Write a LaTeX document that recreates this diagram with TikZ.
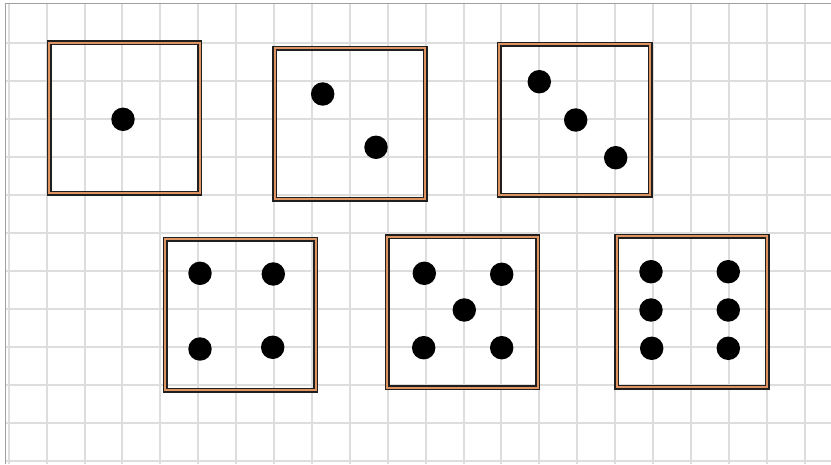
\documentclass[tikz,border=0pt]{standalone}
\definecolor{dieorange}{RGB}{222,148,98}
\definecolor{gridgray}{RGB}{221,221,221}
\definecolor{framegray}{RGB}{160,160,160}
\begin{document}
\begin{tikzpicture}[x=0.75pt,y=-0.75pt,
  gridline/.style={draw=gridgray, line width=1.5pt},
  frameline/.style={draw=framegray, line width=1.1pt},
  die/.style={draw=black!88, line width=1.1pt, double=dieorange, double distance=1.5pt,
    rectangle, inner sep=0pt, minimum width=113pt, minimum height=113pt},
  pip/.style={circle, fill=black, inner sep=0pt, minimum size=17.6pt}]
\fill[white] (0,0) rectangle (831,464);
\useasboundingbox (0,0) rectangle (831,464);
% grid
\foreach \i in {0,...,21} \draw[gridline] ({8.7+37.9*\i},3.3) -- ({8.7+37.9*\i},464);
\foreach \j in {1,...,12} \draw[gridline] (5.7,{5.3+37.95*\j}) -- (831,{5.3+37.95*\j});
% frame
\draw[frameline] (5.7,464) -- (5.7,3.3) -- (831,3.3);
% dice
\node[die] (d1) at (124.5,117.9) {};
\node[die] (d2) at (350,123.7) {};
\node[die] (d3) at (574.8,119.8) {};
\node[die] (d4) at (240.5,314.8) {};
\node[die] (d5) at (462.5,312.2) {};
\node[die] (d6) at (692,311.8) {};
% pips
\node[pip] (p11) at (123,119.3) {};
\node[pip] (p21) at (322.7,94) {};
\node[pip] (p22) at (376,147.3) {};
\node[pip] (p31) at (539.3,81.7) {};
\node[pip] (p32) at (575.7,120) {};
\node[pip] (p33) at (615.7,157.7) {};
\node[pip] (p41) at (200,273.3) {};
\node[pip] (p42) at (273.3,274) {};
\node[pip] (p43) at (200,349) {};
\node[pip] (p44) at (272.7,347.3) {};
\node[pip] (p51) at (424.3,273.3) {};
\node[pip] (p52) at (501.7,274.3) {};
\node[pip] (p53) at (464.3,310) {};
\node[pip] (p54) at (423.7,347.7) {};
\node[pip] (p55) at (501.7,347.7) {};
\node[pip] (p61) at (651,271.7) {};
\node[pip] (p62) at (728.3,271.7) {};
\node[pip] (p63) at (651,310) {};
\node[pip] (p64) at (728.3,310) {};
\node[pip] (p65) at (651.7,348.3) {};
\node[pip] (p66) at (728.3,348.3) {};
\end{tikzpicture}
\end{document}
